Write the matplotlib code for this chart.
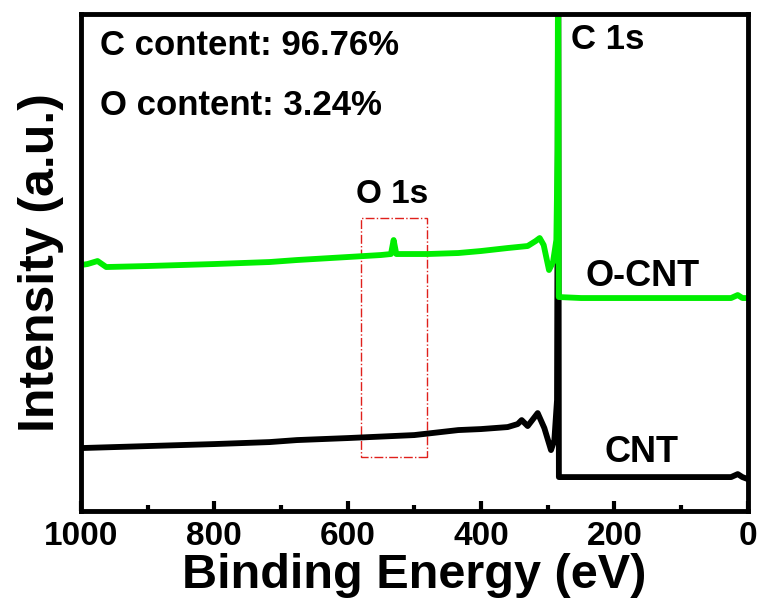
import numpy as np
import matplotlib
matplotlib.use('Agg')
import matplotlib.pyplot as plt
from matplotlib.patches import Rectangle
from matplotlib.ticker import MultipleLocator

plt.rcParams['font.family'] = 'Liberation Sans'
plt.rcParams['font.weight'] = 'bold'

# XPS survey spectra, binding energy (eV) vs intensity (a.u.)
# the C 1s peak runs well past the top of the frame
ocnt_be = [1000, 990, 975, 962, 900, 800, 717, 676, 600, 550, 535, 531, 527,
           480, 434, 400, 360, 330, 318, 312, 306, 298, 292, 287, 285.2, 284.3,
           283.4, 250, 100, 25, 15, 8, 0]
ocnt_int = [2.46, 2.47, 2.50, 2.44, 2.45, 2.47, 2.49, 2.51, 2.54, 2.56, 2.57, 2.71, 2.57,
            2.57, 2.58, 2.60, 2.63, 2.65, 2.70, 2.73, 2.66, 2.41, 2.49, 2.71, 3.6, 6.0,
            2.14, 2.13, 2.13, 2.13, 2.16, 2.13, 2.13]

cnt_be = [1000, 900, 800, 717, 676, 600, 500, 434, 400, 360, 345, 339, 330,
          315, 305, 295, 290, 286, 285.0, 284.2, 283.2, 250, 100, 25, 15, 8, 0]
cnt_int = [0.63, 0.65, 0.67, 0.69, 0.71, 0.73, 0.76, 0.81, 0.82, 0.84, 0.87, 0.91, 0.85,
           0.98, 0.83, 0.61, 0.71, 1.11, 3.5, 6.0, 0.34, 0.34, 0.34, 0.34, 0.37, 0.34, 0.32]

# O 1s window marked on the survey
o1s_window = (481, 580)
o1s_span = (0.54, 2.93)

c_content = 96.76
o_content = 3.24

fig = plt.figure(figsize=(7.63, 6.07), dpi=100)
ax = fig.add_axes([0.106, 0.158, 0.874, 0.819])

ax.plot(cnt_be, cnt_int, color='black', linewidth=4.2, solid_joinstyle='round')
ax.plot(ocnt_be, ocnt_int, color='#00ee00', linewidth=4.2, solid_joinstyle='round')

ax.add_patch(Rectangle((o1s_window[0], o1s_span[0]), o1s_window[1] - o1s_window[0],
                       o1s_span[1] - o1s_span[0], fill=False, edgecolor='#e0201c',
                       linewidth=1.0, linestyle='-.'))

ax.set_xlim(1000, 0)
ax.set_ylim(0, 4.97)
ax.xaxis.set_major_locator(MultipleLocator(200))
ax.xaxis.set_minor_locator(MultipleLocator(100))
ax.tick_params(axis='x', which='major', direction='in', length=7, width=3,
               labelsize=24, pad=7, top=False)
ax.tick_params(axis='x', which='minor', direction='in', length=4, width=3, top=False)
ax.set_yticks([])
for sp in ax.spines.values():
    sp.set_linewidth(3.5)

ax.set_xlabel('Binding Energy (eV)', fontsize=35, fontweight='bold', labelpad=1)
ax.set_ylabel('Intensity (a.u.)', fontsize=36, fontweight='bold', labelpad=12)

ax.text(0.028, 0.917, 'C content: {:.2f}%'.format(c_content), transform=ax.transAxes,
        fontsize=25, fontweight='bold', ha='left', va='baseline')
ax.text(0.028, 0.797, 'O content: {:.2f}%'.format(o_content), transform=ax.transAxes,
        fontsize=25, fontweight='bold', ha='left', va='baseline')

ax.text(210, 4.71, 'C 1s', fontsize=25, fontweight='bold', ha='center', va='center')
ax.text(534, 3.17, 'O 1s', fontsize=24, fontweight='bold', ha='center', va='center')
ax.text(157, 2.35, 'O-CNT', fontsize=26, fontweight='bold', ha='center', va='center')
ax.text(159, 0.59, 'CNT', fontsize=26, fontweight='bold', ha='center', va='center')

fig.savefig('out.png', dpi=100)
